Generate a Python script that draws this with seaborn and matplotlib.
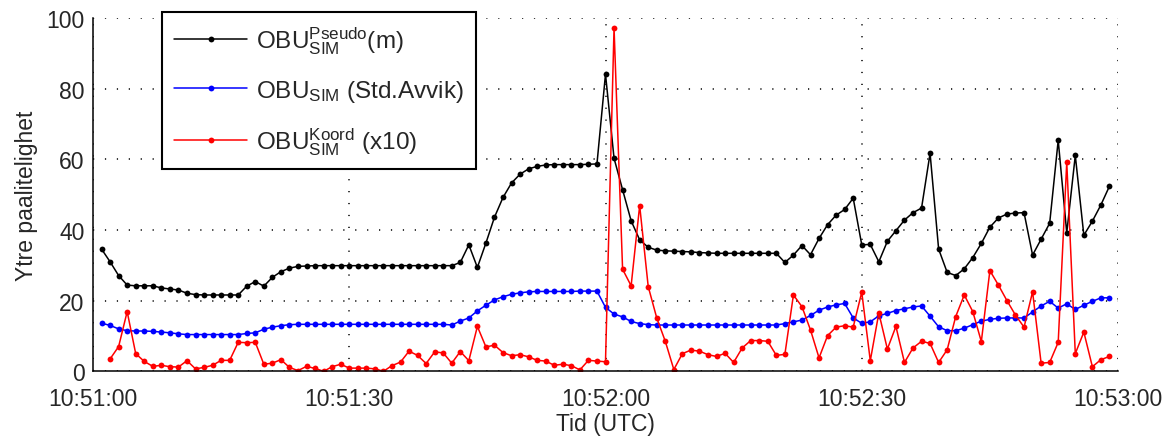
import numpy as np
import pandas as pd
import matplotlib
matplotlib.use("Agg")
import matplotlib.pyplot as plt
from matplotlib.ticker import MultipleLocator
import seaborn as sns

# Data (seconds after 10:51:00, 1 Hz)
tid_sim = list(range(1, 120))
tid_koord = list(range(2, 120))

pseudo = ([34.6, 31.0, 27.1, 24.4, 24.2, 24.2, 24.2, 23.6, 23.3, 23.0, 22.1, 21.7] + [21.6] * 5 + [24.1, 25.4, 24.1, 26.6]
          + [28.2, 29.2, 29.7, 29.8] + [29.9] * 16
          + [29.9, 30.8, 35.8, 29.4, 36.3, 43.6, 49.2, 53.3, 55.8, 57.3, 58.0, 58.4, 58.5, 58.5, 58.5, 58.5, 58.6, 58.7, 84.1, 60.3, 51.4]
          + [42.6, 37.2, 35.1, 34.3, 34.1, 34.0, 33.9, 33.8, 33.6, 33.5] + [33.4] * 8 + [30.8, 32.9]
          + [35.6, 33.0, 37.6, 41.5, 44.2, 45.8, 49.0, 35.8, 35.9, 31.0, 36.8, 39.8, 42.8, 44.9, 46.2, 61.7, 34.6, 28.0, 27.1, 29.0, 32.2]
          + [36.2, 40.8, 43.4, 44.5, 44.8, 44.9, 32.9, 37.4, 41.9, 65.4, 39.2, 61.1, 38.5, 42.5, 47.1, 52.4])

std_avvik = ([13.6, 13.0, 12.0, 11.5, 11.4, 11.4, 11.3, 11.1, 10.9, 10.6] + [10.4] * 7 + [10.7, 10.9, 11.9, 12.5]
             + [12.9, 13.2] + [13.3] * 18
             + [13.1, 14.2, 15.1, 17.1, 18.7, 20.2, 21.1, 21.8, 22.2, 22.5] + [22.6] * 5 + [22.7] * 3 + [18.1, 16.2, 15.4]
             + [14.1, 13.5, 13.2] + [13.1] * 15 + [13.5, 14.0]
             + [14.5, 15.8, 17.3, 18.2, 18.8, 19.2, 15.1, 13.6, 14.0, 15.7, 16.4, 17.2, 17.7, 18.2, 18.5, 15.6, 12.6, 11.5, 11.5, 12.2, 13.2]
             + [14.2, 14.7, 15.0, 15.1, 15.1, 15.1, 16.8, 18.5, 19.8, 17.9, 19.1, 17.5, 18.7, 19.8, 20.8, 20.8])

koord = ([3.5, 7.0, 16.9, 5.0, 2.8, 1.4, 1.7, 1.3, 1.2, 3.0, 0.7, 1.1, 1.7, 3.1, 3.1, 8.2, 8.1, 8.2, 2.0, 2.3]
         + [3.3, 1.1, 0.2, 1.4, 0.8, 0.0, 1.3, 2.0, 0.9, 0.9, 0.9, 0.7, 0.0, 1.6, 2.6, 5.7, 4.5, 2.2, 5.5, 5.2]
         + [2.3, 5.6, 3.0, 12.7, 6.9, 7.4, 5.3, 4.4, 4.7, 4.1, 3.1, 2.9, 1.7, 2.0, 1.6, 0.4, 3.1, 2.9, 2.7, 97.2, 28.9]
         + [24.2, 46.9, 24.0, 15.1, 8.5, 0.5, 5.0, 6.0, 5.7, 4.7, 4.2, 5.1, 2.5, 6.6, 8.7, 8.7, 8.5, 4.5, 4.8, 21.6]
         + [18.3, 11.7, 3.8, 10.1, 12.5, 12.9, 12.5, 22.4, 3.0, 16.5, 6.3, 12.7, 2.5, 6.6, 8.5, 7.9, 2.5, 6.1, 15.5, 21.6, 16.9]
         + [8.4, 28.5, 24.4, 20.0, 15.9, 12.5, 22.5, 2.3, 2.5, 8.2, 59.2, 5.0, 11.1, 1.3, 3.3, 4.2])

xtick_pos = [0, 30, 60, 90, 120]
xtick_labels = ["10:51:00", "10:51:30", "10:52:00", "10:52:30", "10:53:00"]
labels = [r"$\mathregular{OBU_{SIM}^{Pseudo}}$(m)",
          r"$\mathregular{OBU_{SIM}}$ (Std.Avvik)",
          r"$\mathregular{OBU_{SIM}^{Koord}}$ (x10)"]

sns.set_style("white")
plt.rcParams["font.family"] = ["Liberation Sans", "DejaVu Sans"]

fig = plt.figure(figsize=(11.75, 4.39), dpi=100)
ax = fig.add_axes([93 / 1175, 1 - 372.3 / 439, (1118 - 93) / 1175, (372.3 - 19) / 439])

df1 = pd.DataFrame({"t": tid_sim, "v": pseudo})
df2 = pd.DataFrame({"t": tid_sim, "v": std_avvik})
df3 = pd.DataFrame({"t": tid_koord, "v": koord})

kw = dict(marker="o", markersize=4.2, markeredgewidth=0, linewidth=1.1)
sns.lineplot(data=df1, x="t", y="v", color="black", label=labels[0], ax=ax, **kw)
sns.lineplot(data=df2, x="t", y="v", color="blue", label=labels[1], ax=ax, **kw)
sns.lineplot(data=df3, x="t", y="v", color="red", label=labels[2], ax=ax, **kw)

ax.set_xlim(0, 120)
ax.set_ylim(0, 100)
ax.set_xticks(xtick_pos)
ax.set_xticklabels(xtick_labels)
ax.set_yticks([0, 20, 40, 60, 80, 100])
ax.xaxis.set_minor_locator(MultipleLocator(1.25))
ax.yaxis.set_minor_locator(MultipleLocator(2.5))
ax.tick_params(which="major", direction="in", length=7, width=1, labelsize=16.5, color="black")
ax.tick_params(axis="x", which="major", pad=11)
ax.tick_params(axis="y", which="major", pad=6)
ax.tick_params(which="minor", direction="in", length=3, width=0.6, color="0.4")
ax.grid(True, which="major", color="black", linestyle=(0, (0.8, 7)), linewidth=1.1)

for s in ["top", "right"]:
    ax.spines[s].set_visible(False)
for s in ["left", "bottom"]:
    ax.spines[s].set_color("black")
    ax.spines[s].set_linewidth(1.1)

ax.set_xlabel("Tid (UTC)", fontsize=16.5, labelpad=2)
ax.set_ylabel("Ytre paalitelighet", fontsize=16.5, labelpad=6)

leg = ax.legend(loc="upper left", bbox_to_anchor=(162 / 1175, 1 - 13 / 439), bbox_transform=fig.transFigure,
                fontsize=17.5, handlelength=3.0, handletextpad=0.35, labelspacing=0.9, borderaxespad=0,
                borderpad=0.5, fancybox=False, framealpha=1, edgecolor="black")
leg.get_frame().set_linewidth(1.5)

fig.savefig("out.png", dpi=100)
